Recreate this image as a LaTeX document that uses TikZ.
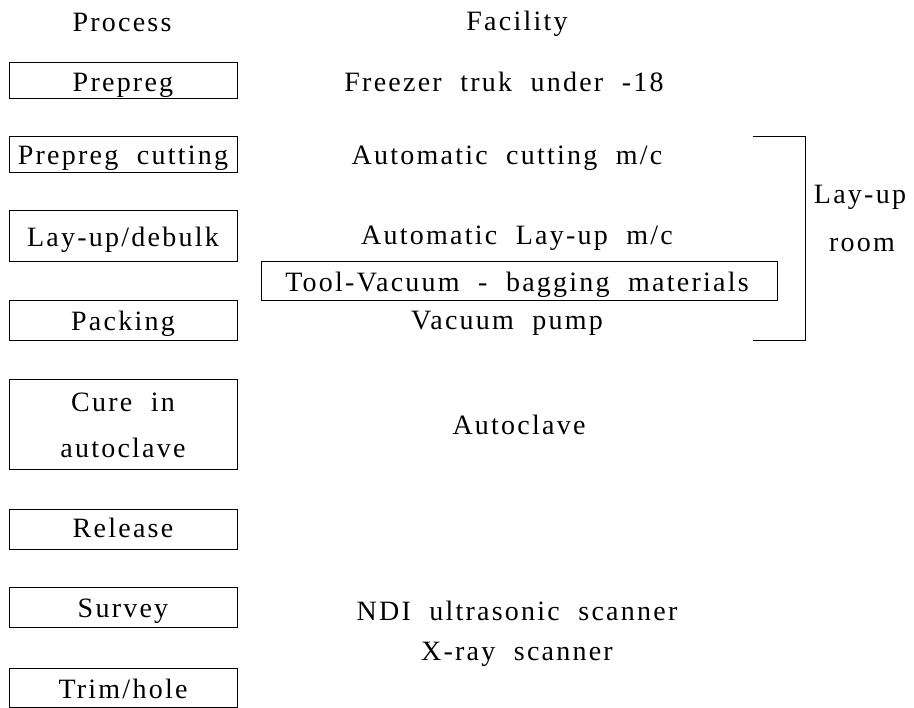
\documentclass[tikz,border=0pt]{standalone}
\usepackage{fontspec}
\setmainfont[LetterSpace=8,WordSpace=2]{Liberation Serif}
\begin{document}
\begin{tikzpicture}[x=1pt,y=-1pt,
  pbox/.style={draw=black,line width=1pt,minimum width=228pt,inner sep=0pt},
  txt/.style={anchor=base,inner sep=0pt,font=\fontsize{28}{34}\selectfont},
  bracketline/.style={draw=black,line width=1pt}]
\useasboundingbox (0,0) rectangle (914,708);
% headers
\node[txt] (hproc) at (122,32) {Process};
\node[txt] (hfac) at (517,31) {Facility};
% process boxes
\node[pbox,minimum height=36pt] (b1) at (123,81) {};
\node[txt] (t1) at (123,92) {Prepreg};
\node[pbox,minimum height=36pt] (b2) at (123,155) {};
\node[txt] (t2) at (123,165) {Prepreg cutting};
\node[pbox,minimum height=51pt] (b3) at (123,236.5) {};
\node[txt] (t3) at (123,247) {Lay-up/debulk};
\node[pbox,minimum height=40pt] (b4) at (123,320.7) {};
\node[txt] (t4) at (123,331) {Packing};
\node[pbox,minimum height=90pt] (b5) at (123,425) {};
\node[txt] (t5a) at (123,412) {Cure in};
\node[txt] (t5b) at (123,458) {autoclave};
\node[pbox,minimum height=40pt] (b6) at (123,530) {};
\node[txt] (t6) at (123,538) {Release};
\node[pbox,minimum height=40pt] (b7) at (123,608) {};
\node[txt] (t7) at (123,618) {Survey};
\node[pbox,minimum height=39pt] (b8) at (123,687.5) {};
\node[txt] (t8) at (123,698) {Trim/hole};
% facilities
\node[txt] (f1) at (504,92) {Freezer truk under -18};
\node[txt] (f2) at (507,165) {Automatic cutting m/c};
\node[txt] (f3) at (517,245) {Automatic Lay-up m/c};
\node[draw=black,line width=1pt,minimum width=516pt,minimum height=39pt,inner sep=0pt] (f4box) at (519,281.5) {};
\node[txt] (f4) at (517,292) {Tool-Vacuum - bagging materials};
\node[txt] (f5) at (507,330) {Vacuum pump};
\node[txt] (f6) at (519,435) {Autoclave};
\node[txt] (f7) at (517,620) {NDI ultrasonic scanner};
\node[txt] (f8) at (517,660) {X-ray scanner};
% lay-up room bracket
\coordinate (ba) at (753,136.7);
\coordinate (bb) at (805,136.7);
\coordinate (bc) at (805,340.7);
\coordinate (bd) at (753,340.7);
\draw[bracketline] (ba) -- (bb) -- (bc) -- (bd);
\node[txt] (r1) at (860,204) {Lay-up};
\node[txt] (r2) at (862,252) {room};
\end{tikzpicture}
\end{document}
